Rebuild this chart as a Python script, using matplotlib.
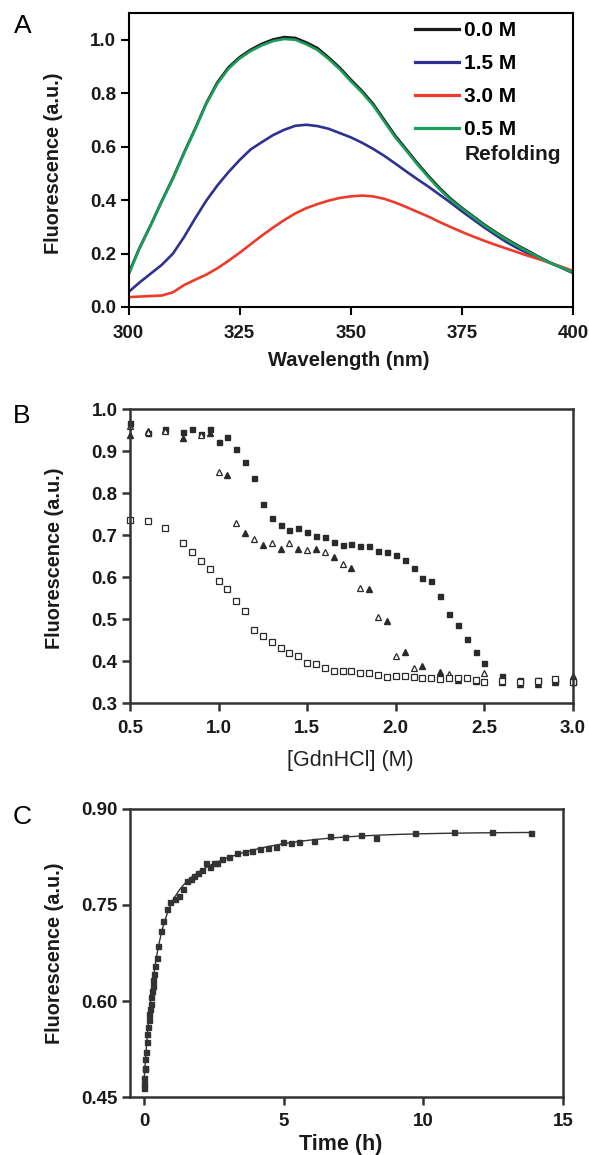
import numpy as np
import matplotlib
matplotlib.use('Agg')
import matplotlib.pyplot as plt

plt.rcParams['font.family'] = ['Liberation Sans', 'DejaVu Sans']
plt.rcParams['font.weight'] = 'bold'

# ---------------- A: emission spectra ----------------
wavelength = [300, 302.5, 305, 307.5, 310, 312.5, 315, 317.5, 320, 322.5,
              325, 327.5, 330, 332.5, 335, 337.5, 340, 342.5, 345, 347.5,
              350, 352.5, 355, 357.5, 360, 362.5, 365, 367.5, 370, 372.5,
              375, 377.5, 380, 382.5, 385, 387.5, 390, 392.5, 395, 397.5, 400]
f_00M = [0.125, 0.222, 0.307, 0.397, 0.483, 0.578, 0.668, 0.763, 0.841, 0.897,
         0.935, 0.963, 0.985, 1.001, 1.010, 1.007, 0.990, 0.969, 0.934, 0.896,
         0.851, 0.809, 0.761, 0.701, 0.641, 0.590, 0.538, 0.490, 0.445, 0.405,
         0.371, 0.340, 0.309, 0.281, 0.255, 0.231, 0.209, 0.186, 0.165, 0.148, 0.130]
f_15M = [0.056, 0.092, 0.125, 0.158, 0.200, 0.262, 0.332, 0.398, 0.455, 0.505,
         0.550, 0.590, 0.617, 0.643, 0.663, 0.678, 0.682, 0.677, 0.667, 0.651,
         0.635, 0.615, 0.592, 0.566, 0.537, 0.507, 0.478, 0.450, 0.420, 0.390,
         0.358, 0.328, 0.298, 0.270, 0.243, 0.220, 0.200, 0.182, 0.164, 0.146, 0.127]
f_30M = [0.037, 0.039, 0.041, 0.043, 0.055, 0.082, 0.102, 0.121, 0.145, 0.173,
         0.203, 0.235, 0.267, 0.297, 0.325, 0.350, 0.370, 0.385, 0.398, 0.408,
         0.414, 0.417, 0.414, 0.405, 0.391, 0.374, 0.356, 0.338, 0.318, 0.299,
         0.281, 0.264, 0.248, 0.233, 0.219, 0.205, 0.191, 0.178, 0.164, 0.150, 0.135]
f_05R = [0.120, 0.220, 0.305, 0.395, 0.480, 0.575, 0.665, 0.760, 0.836, 0.892,
         0.930, 0.958, 0.979, 0.995, 1.003, 1.000, 0.983, 0.962, 0.928, 0.890,
         0.845, 0.803, 0.755, 0.695, 0.635, 0.585, 0.533, 0.485, 0.440, 0.401,
         0.368, 0.337, 0.306, 0.278, 0.252, 0.228, 0.206, 0.184, 0.164, 0.147, 0.130]
labelsA = ['0.0 M', '1.5 M', '3.0 M', '0.5 M']
colorsA = ['#1a1a1a', '#2e3192', '#ee3a2a', '#1a9e5a']

# ---------------- B: GdnHCl titration ----------------
gdn_sqf = [0.5, 0.6, 0.7, 0.8, 0.85, 0.9, 0.95, 1.0, 1.05, 1.1, 1.15, 1.2, 1.25, 1.3,
           1.35, 1.4, 1.45, 1.5, 1.55, 1.6, 1.65, 1.7, 1.75, 1.8, 1.85, 1.9, 1.95, 2.0,
           2.05, 2.1, 2.15, 2.2, 2.25, 2.3, 2.35, 2.4, 2.45, 2.5, 2.6, 2.7, 2.8, 2.9, 3.0]
flu_sqf = [0.966, 0.943, 0.952, 0.946, 0.952, 0.940, 0.952, 0.922, 0.933, 0.904, 0.875,
           0.835, 0.775, 0.740, 0.724, 0.712, 0.718, 0.708, 0.698, 0.696, 0.683, 0.676,
           0.678, 0.674, 0.675, 0.663, 0.660, 0.652, 0.640, 0.621, 0.598, 0.591, 0.555,
           0.513, 0.487, 0.453, 0.422, 0.396, 0.364, 0.356, 0.356, 0.352, 0.350]
gdn_trf = [0.5, 0.6, 0.7, 0.8, 0.95, 1.05, 1.15, 1.25, 1.35, 1.45, 1.55, 1.65, 1.75,
           1.85, 1.95, 2.05, 2.15, 2.25, 2.35, 2.45, 2.6, 2.7, 2.8, 2.9, 3.0]
flu_trf = [0.938, 0.948, 0.950, 0.930, 0.942, 0.843, 0.705, 0.677, 0.668, 0.668, 0.668,
           0.648, 0.622, 0.571, 0.495, 0.422, 0.388, 0.375, 0.356, 0.352, 0.350, 0.345,
           0.346, 0.350, 0.365]
gdn_tro = [0.5, 0.6, 0.7, 0.9, 1.0, 1.1, 1.2, 1.3, 1.4, 1.5, 1.6, 1.7, 1.8, 1.9, 2.0,
           2.1, 2.3, 2.5, 2.6, 2.7, 2.8, 2.9, 3.0]
flu_tro = [0.960, 0.945, 0.948, 0.938, 0.851, 0.728, 0.690, 0.680, 0.680, 0.664, 0.659,
           0.631, 0.575, 0.506, 0.412, 0.384, 0.370, 0.371, 0.352, 0.350, 0.350, 0.355, 0.360]
gdn_sqo = gdn_sqf
flu_sqo = [0.737, 0.733, 0.716, 0.680, 0.660, 0.639, 0.620, 0.590, 0.571, 0.543, 0.520,
           0.475, 0.460, 0.446, 0.432, 0.419, 0.411, 0.396, 0.393, 0.384, 0.376, 0.376,
           0.376, 0.371, 0.371, 0.367, 0.361, 0.365, 0.364, 0.362, 0.360, 0.359, 0.357,
           0.360, 0.359, 0.359, 0.355, 0.350, 0.352, 0.350, 0.352, 0.358, 0.350]

# ---------------- C: refolding kinetics ----------------
timeC = [0.0, 0.0, 0.0, 0.02, 0.035, 0.05, 0.07, 0.095, 0.12, 0.14, 0.17, 0.19, 0.21,
         0.24, 0.26, 0.29, 0.31, 0.33, 0.37, 0.41, 0.45, 0.51, 0.6, 0.69, 0.81, 0.95,
         1.11, 1.25, 1.39, 1.55, 1.67, 1.79, 1.93, 2.09, 2.23, 2.36, 2.5, 2.62, 2.78,
         3.04, 3.34, 3.6, 3.87, 4.17, 4.43, 4.71, 4.98, 5.27, 5.54, 6.08, 6.65, 7.21,
         7.77, 8.31, 9.72, 11.09, 12.47, 13.86]
fluorC = [0.464, 0.471, 0.479, 0.493, 0.496, 0.510, 0.520, 0.536, 0.548, 0.560, 0.570,
          0.579, 0.588, 0.596, 0.606, 0.615, 0.623, 0.633, 0.642, 0.654, 0.667, 0.686,
          0.710, 0.725, 0.743, 0.755, 0.760, 0.764, 0.775, 0.787, 0.791, 0.795, 0.800,
          0.805, 0.815, 0.810, 0.816, 0.816, 0.822, 0.825, 0.831, 0.833, 0.835, 0.837,
          0.839, 0.841, 0.849, 0.847, 0.848, 0.850, 0.857, 0.856, 0.860, 0.854, 0.862,
          0.864, 0.864, 0.862]

tickFont = 13.5
labelFont = 14.3


def style_axes(ax, spine_color, spine_lw, xpad):
    for s in ax.spines.values():
        s.set_color(spine_color)
        s.set_linewidth(spine_lw)
    ax.tick_params(axis='both', direction='out', length=6, width=spine_lw,
                   color=spine_color, labelsize=tickFont, labelcolor='#1a1a1a')
    ax.tick_params(axis='x', pad=xpad)
    ax.tick_params(axis='y', pad=3)


fig = plt.figure(figsize=(5.89, 11.55), dpi=100)

# ---- A ----
axA = fig.add_axes([0.2182, 0.7342, 0.7547, 0.2545])
seriesA = [f_00M, f_15M, f_30M, f_05R]
for yv, lab, c in zip(seriesA, labelsA, colorsA):
    axA.plot(wavelength, yv, color=c, lw=1.9, label=lab)
axA.set_xlim(300, 400)
axA.set_ylim(0, 1.1)
axA.set_xticks([300, 325, 350, 375, 400])
axA.set_yticks([0.0, 0.2, 0.4, 0.6, 0.8, 1.0])
axA.set_yticklabels(['%.1f' % v for v in axA.get_yticks()])
style_axes(axA, 'black', 1.5, 7)
axA.set_xlabel('Wavelength (nm)', fontsize=14.5, fontweight='bold', color='#1a1a1a')
axA.set_ylabel('Fluorescence (a.u.)', fontsize=labelFont, fontweight='bold', color='#1a1a1a')
axA.xaxis.set_label_coords(0.495, -0.15)
axA.yaxis.set_label_coords(-0.147, 0.49)
leg = axA.legend(loc='upper left', bbox_to_anchor=(0.645, 0.973), frameon=False,
                 prop={'size': 15, 'weight': 'bold'}, handlelength=2.1,
                 handletextpad=0.25, labelspacing=0.68, borderpad=0, borderaxespad=0)
for h in leg.get_lines():
    h.set_linewidth(2.3)
axA.text(0.755, 0.52, 'Refolding', transform=axA.transAxes, fontsize=15,
         fontweight='bold', ha='left', va='center', color='#1a1a1a')

# ---- B ----
axB = fig.add_axes([0.2207, 0.3913, 0.7521, 0.2545])
mk = dict(linestyle='none', clip_on=False, color='#2a2a2a')
axB.plot(gdn_sqf, flu_sqf, marker='s', ms=3.6, **mk)
axB.plot(gdn_trf, flu_trf, marker='^', ms=4.3, **mk)
axB.plot(gdn_tro, flu_tro, marker='^', ms=4.6, mfc='white', mew=0.9, **mk)
axB.plot(gdn_sqo, flu_sqo, marker='s', ms=3.8, mfc='white', mew=0.9, **mk)
axB.set_xlim(0.5, 3.0)
axB.set_ylim(0.3, 1.0)
axB.set_xticks([0.5, 1.0, 1.5, 2.0, 2.5, 3.0])
axB.set_yticks([0.3, 0.4, 0.5, 0.6, 0.7, 0.8, 0.9, 1.0])
axB.set_xticklabels(['%.1f' % v for v in axB.get_xticks()])
axB.set_yticklabels(['%.1f' % v for v in axB.get_yticks()])
style_axes(axB, '#333333', 1.8, 6.3)
axB.set_xlabel('[GdnHCl] (M)', fontsize=15.5, fontweight='normal', color='#222222')
axB.set_ylabel('Fluorescence (a.u.)', fontsize=labelFont, fontweight='bold', color='#1a1a1a')
axB.xaxis.set_label_coords(0.498, -0.16)
axB.yaxis.set_label_coords(-0.149, 0.493)

# ---- C ----
axC = fig.add_axes([0.2207, 0.0502, 0.7351, 0.2494])
tC = np.array(timeC)
fC = np.array(fluorC)
# double exponential fit, rates by grid search, amplitudes by least squares
best = None
for k1 in np.linspace(0.5, 20, 80):
    for k2 in np.linspace(0.05, 2.0, 80):
        M = np.column_stack([np.ones_like(tC), np.exp(-k1 * tC), np.exp(-k2 * tC)])
        coef = np.linalg.lstsq(M, fC, rcond=None)[0]
        err = np.sum((M @ coef - fC) ** 2)
        if best is None or err < best[0]:
            best = (err, k1, k2, coef)
_, k1, k2, coef = best
tfit = np.linspace(0, tC.max(), 600)
ffit = coef[0] + coef[1] * np.exp(-k1 * tfit) + coef[2] * np.exp(-k2 * tfit)
axC.plot(tfit, ffit, color='#333333', lw=1.0)
axC.plot(tC, fC, linestyle='none', marker='s', ms=3.6, color='#333333')
axC.set_xlim(-0.5, 15)
axC.set_ylim(0.45, 0.90)
axC.set_xticks([0, 5, 10, 15])
axC.set_yticks([0.45, 0.60, 0.75, 0.90])
axC.set_yticklabels(['%.2f' % v for v in axC.get_yticks()])
style_axes(axC, '#333333', 1.8, 5.5)
axC.set_xlabel('Time (h)', fontsize=15.5, fontweight='bold', color='#1a1a1a')
axC.set_ylabel('Fluorescence (a.u.)', fontsize=labelFont, fontweight='bold', color='#1a1a1a')
axC.xaxis.set_label_coords(0.487, -0.128)
axC.yaxis.set_label_coords(-0.152, 0.5)

# panel letters
fig.text(23 / 589, 1 - 26 / 1155, 'A', fontsize=19, fontweight='normal', ha='center', va='center')
fig.text(21.5 / 589, 1 - 416 / 1155, 'B', fontsize=19, fontweight='normal', ha='center', va='center')
fig.text(22.5 / 589, 1 - 817.5 / 1155, 'C', fontsize=19, fontweight='normal', ha='center', va='center')

fig.savefig('out.png', dpi=100)
